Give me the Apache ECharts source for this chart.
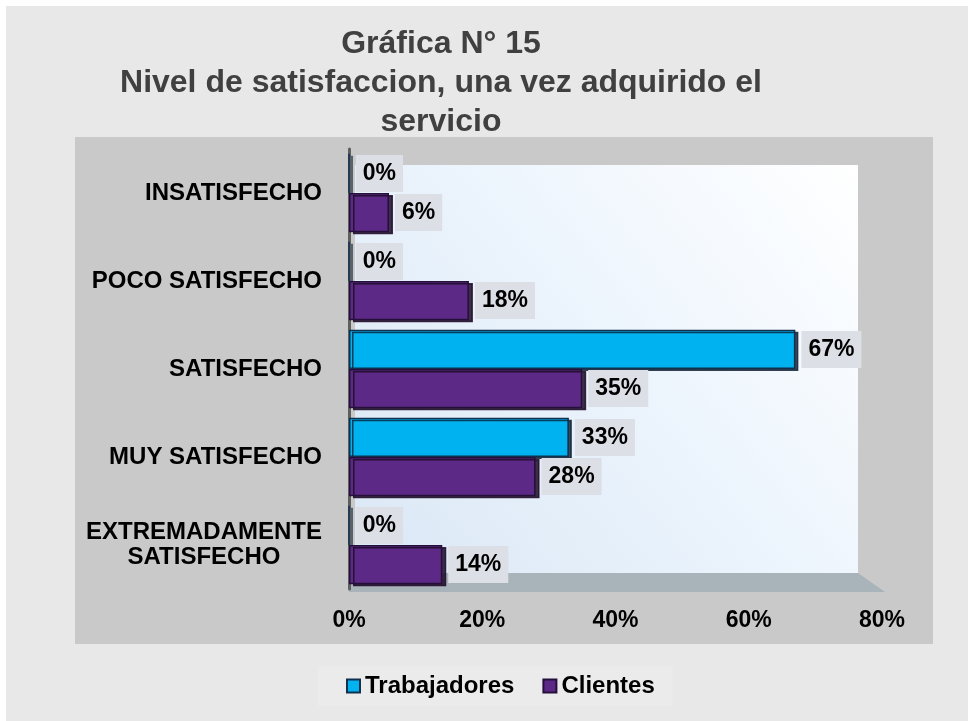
<!DOCTYPE html>
<html>
<head>
<meta charset="utf-8">
<script src="https://cdn.jsdelivr.net/npm/echarts@6/dist/echarts.min.js"></script>
<style>
  html, body { margin: 0; padding: 0; background: #fff; }
  #chart-container { width: 968px; height: 721px; }
</style>
</head>
<body>
<div id="chart-container"></div>
<script>
var categories = ['INSATISFECHO', 'POCO SATISFECHO', 'SATISFECHO', 'MUY SATISFECHO', 'EXTREMADAMENTE\nSATISFECHO'];
var trabajadores = [0, 0, 67, 33, 0];
var clientes = [6, 18, 35, 28, 14];
var xTicks = [0, 20, 40, 60, 80];

var dom = document.getElementById('chart-container');
var myChart = echarts.init(dom, null, { renderer: 'canvas' });

var font = 'Arial, "Liberation Sans", sans-serif';

var valueLabel = {
  show: true,
  position: 'right',
  distance: 6,
  formatter: '{c}%',
  backgroundColor: '#dcdfe5',
  padding: [8, 7, 6, 7],
  fontSize: 23,
  fontWeight: 'bold',
  fontFamily: font,
  color: '#000'
};

var option = {
  backgroundColor: '#ffffff',
  textStyle: { fontFamily: font },
  graphic: [
    // outer panel
    { type: 'rect', z: -10, shape: { x: 6, y: 6, width: 962, height: 715 }, style: { fill: '#e8e8e8' } },
    // inner grey panel
    { type: 'rect', z: -9, shape: { x: 75, y: 137, width: 858, height: 507 }, style: { fill: '#c9c9c9' } },
    // back wall
    {
      type: 'rect', z: -8,
      shape: { x: 355, y: 165, width: 503, height: 408 },
      style: {
        fill: new echarts.graphic.LinearGradient(0, 1, 1, 0, [
          { offset: 0, color: '#dae7f5' },
          { offset: 0.55, color: '#edf5fd' },
          { offset: 1, color: '#ffffff' }
        ])
      }
    },
    // floor
    {
      type: 'polygon', z: -8,
      shape: { points: [[349, 573], [858, 573], [885, 592], [349, 592]] },
      style: { fill: '#a9b3ba' }
    }
  ],
  title: {
    text: 'Gráfica N° 15\nNivel de satisfaccion, una vez adquirido el\nservicio',
    left: 436,
    top: 20,
    textAlign: 'center',
    textStyle: {
      fontSize: 32,
      fontWeight: 'bold',
      color: '#404040',
      lineHeight: 39,
      fontFamily: font
    }
  },
  legend: {
    left: 318,
    top: 666,
    backgroundColor: '#ebebeb',
    padding: [8, 18, 8, 28],
    itemWidth: 13,
    itemHeight: 13,
    itemGap: 28,
    icon: 'rect',
    textStyle: { fontSize: 24, fontWeight: 'bold', color: '#000', fontFamily: font }
  },
  grid: {
    left: 349,
    width: 533,
    top: 149,
    height: 440
  },
  xAxis: {
    type: 'value',
    min: 0,
    max: 80,
    interval: 20,
    axisLine: { show: false },
    axisTick: { show: false },
    splitLine: { show: false },
    axisLabel: {
      margin: 20,
      fontSize: 23,
      fontWeight: 'bold',
      color: '#000',
      fontFamily: font,
      customValues: xTicks,
      formatter: '{value}%'
    }
  },
  yAxis: {
    type: 'category',
    data: categories,
    inverse: true,
    offset: 5,
    axisLine: { show: true, lineStyle: { color: '#5f5f5f', width: 3 } },
    axisTick: { show: false },
    axisLabel: {
      margin: 22,
      fontSize: 24,
      fontWeight: 'bold',
      color: '#000',
      lineHeight: 25,
      fontFamily: font,
      formatter: function (v) {
        return v.split('\n').map(function (s) { return '{c|' + s + '}'; }).join('\n');
      },
      rich: {
        c: { align: 'center', fontSize: 24, fontWeight: 'bold', color: '#000', lineHeight: 25, fontFamily: font }
      }
    }
  },
  series: [
    {
      name: 'Trabajadores',
      type: 'bar',
      data: trabajadores,
      barGap: '0%',
      barCategoryGap: '11%',
      itemStyle: {
        color: '#00b2f0',
        borderColor: '#10304f',
        borderWidth: 1.5,
        shadowColor: 'rgba(10,30,50,0.8)',
        shadowOffsetX: 3,
        shadowOffsetY: 2
      },
      label: valueLabel
    },
    {
      name: 'Clientes',
      type: 'bar',
      data: clientes,
      barGap: '0%',
      barCategoryGap: '11%',
      itemStyle: {
        color: '#5c2a86',
        borderColor: '#24103a',
        borderWidth: 1.5,
        shadowColor: 'rgba(30,10,40,0.85)',
        shadowOffsetX: 4,
        shadowOffsetY: 2
      },
      label: valueLabel
    }
  ]
};

myChart.setOption(option);
window.addEventListener('resize', myChart.resize);
</script>
</body>
</html>
